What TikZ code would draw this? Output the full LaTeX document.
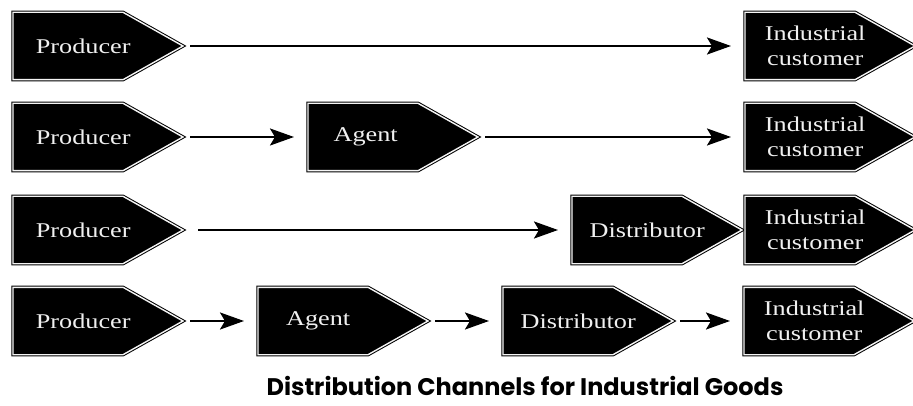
\documentclass[tikz,border=0pt]{standalone}
\usepackage{fontspec}
\setmainfont{Liberation Serif}
\newfontfamily\boxfont[FakeStretch=1.25]{Liberation Serif}
\newfontfamily\capfont{Poppins}
\usetikzlibrary{arrows.meta}
\usetikzlibrary{backgrounds}

\begin{document}
\begin{tikzpicture}[x=1pt,y=-1pt,
	chan/.style={anchor=west, minimum height=67pt, text width=140pt, inner xsep=0pt, inner ysep=0pt,
		align=center, text=white!88!gray, font=\boxfont\fontsize{21}{25}\selectfont},
	chanbg/.style={fill=black, draw=black, line width=1pt, double=white!92!gray, double distance=1.4pt},
	flow/.style={line width=2.4pt, -{Stealth[length=24pt,width=17pt,inset=5pt]}, shorten <=7pt, shorten >=14pt}]
	\useasboundingbox (0,0) rectangle (913,406);
	% row 1
	\node[chan] (p1) at (13,46){Producer};
	\node[chan] (c1) at (745,46){Industrial\\customer};
	% row 2
	\node[chan] (p2) at (13,137){Producer};
	\node[chan, text width=115pt] (a2) at (308,137){Agent};
	\node[chan] (c2) at (745,137){Industrial\\customer};
	% row 3
	\node[chan] (p3) at (13,230){Producer};
	\node[chan, text width=150pt] (d3) at (572,230){Distributor};
	\node[chan] (c3) at (745,230){Industrial\\customer};
	% row 4
	\node[chan] (p4) at (13,321){Producer};
	\node[chan, text width=120pt] (a4) at (258,321){Agent};
	\node[chan, text width=150pt] (d4) at (503,321){Distributor};
	\node[chan] (c4) at (744,321){Industrial\\customer};
	\begin{scope}[on background layer]
		\foreach \n in {p1,c1,p2,a2,c2,p3,d3,c3,p4,a4,d4,c4}
			\draw[chanbg] (\n.north west) -- ([xshift=110pt]\n.north west) -- ([xshift=170pt]\n.west)
				-- ([xshift=110pt]\n.south west) -- (\n.south west) -- cycle;
	\end{scope}
	\draw[flow] ([xshift=170pt]p1.west) -- (c1.west);
	\draw[flow] ([xshift=170pt]p2.west) -- (a2.west);
	\draw[flow] ([xshift=170pt]a2.west) -- (c2.west);
	\draw[flow, shorten <=15pt] ([xshift=170pt]p3.west) -- (d3.west);
	\draw[flow] ([xshift=170pt]p4.west) -- (a4.west);
	\draw[flow] ([xshift=170pt]a4.west) -- (d4.west);
	\draw[flow] ([xshift=170pt]d4.west) -- (c4.west);
	\node[font=\capfont\bfseries\fontsize{24}{28}\selectfont] (cap) at (525,386){Distribution Channels for Industrial Goods};
\end{tikzpicture}
\end{document}
